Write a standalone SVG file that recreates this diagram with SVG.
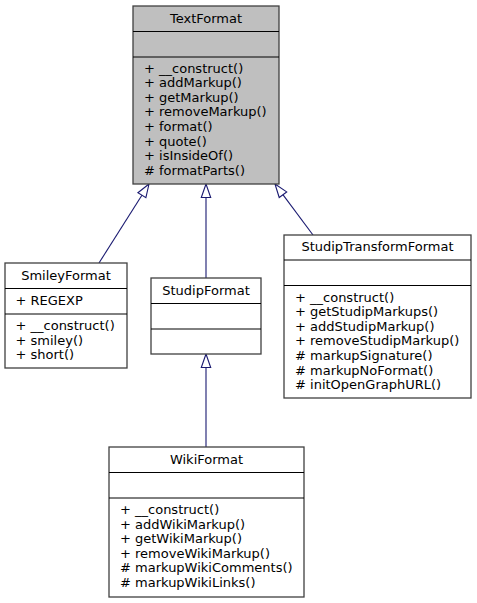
<svg xmlns="http://www.w3.org/2000/svg" width="477" height="603" viewBox="0 0 477 603">
<style>
text{font-family:"DejaVu Sans",sans-serif;font-size:13px;fill:#000}
.t{text-anchor:middle}
.box{fill:#fff;stroke:#404040;stroke-width:1.3}
.cur{fill:#bfbfbf}
.div{stroke:#000;stroke-width:1;fill:none}
.edge{stroke:#191970;stroke-width:1.1;fill:none}
.head{fill:#fff;stroke:#191970;stroke-width:1.1}
</style>
<rect width="477" height="603" fill="#fff"/>
<g id="edges">
<line class="edge" x1="99" y1="263" x2="141.9" y2="195.2"/>
<polygon class="head" points="149,184 145.9,197.7 137.9,192.7"/>
<line class="edge" x1="206" y1="278" x2="206" y2="197.5"/>
<polygon class="head" points="206,184 210.7,197.5 201.3,197.5"/>
<line class="edge" x1="313" y1="235" x2="282.9" y2="194.7"/>
<polygon class="head" points="275,184 286.7,191.9 279.2,197.5"/>
<line class="edge" x1="206" y1="447" x2="206" y2="367.5"/>
<polygon class="head" points="206,354 210.7,367.5 201.3,367.5"/>
</g>
<g id="TextFormat">
<rect class="box cur" x="133" y="6" width="146" height="178"/>
<line class="div" x1="133" y1="31.5" x2="279" y2="31.5"/>
<line class="div" x1="133" y1="57" x2="279" y2="57"/>
<text class="t" x="206" y="22.5">TextFormat</text>
<text x="144" y="72.5">+ __construct()</text>
<text x="144" y="87.1">+ addMarkup()</text>
<text x="144" y="101.7">+ getMarkup()</text>
<text x="144" y="116.3">+ removeMarkup()</text>
<text x="144" y="130.9">+ format()</text>
<text x="144" y="145.5">+ quote()</text>
<text x="144" y="160.1">+ isInsideOf()</text>
<text x="144" y="174.7"># formatParts()</text>
</g>
<g id="SmileyFormat">
<rect class="box" x="5" y="263" width="122" height="105"/>
<line class="div" x1="5" y1="288.5" x2="127" y2="288.5"/>
<line class="div" x1="5" y1="314" x2="127" y2="314"/>
<text class="t" x="66" y="279.5">SmileyFormat</text>
<text x="15.5" y="305">+ REGEXP</text>
<text x="15.5" y="330">+ __construct()</text>
<text x="15.5" y="344.6">+ smiley()</text>
<text x="15.5" y="359.2">+ short()</text>
</g>
<g id="StudipFormat">
<rect class="box" x="151" y="278" width="110" height="76"/>
<line class="div" x1="151" y1="303.5" x2="261" y2="303.5"/>
<line class="div" x1="151" y1="329" x2="261" y2="329"/>
<text class="t" x="206" y="294.5">StudipFormat</text>
</g>
<g id="StudipTransformFormat">
<rect class="box" x="284" y="235" width="187" height="163"/>
<line class="div" x1="284" y1="260" x2="471" y2="260"/>
<line class="div" x1="284" y1="285.5" x2="471" y2="285.5"/>
<text class="t" x="377.5" y="251">StudipTransformFormat</text>
<text x="295" y="301.5">+ __construct()</text>
<text x="295" y="316.1">+ getStudipMarkups()</text>
<text x="295" y="330.7">+ addStudipMarkup()</text>
<text x="295" y="345.3">+ removeStudipMarkup()</text>
<text x="295" y="359.9"># markupSignature()</text>
<text x="295" y="374.5"># markupNoFormat()</text>
<text x="295" y="389.1"># initOpenGraphURL()</text>
</g>
<g id="WikiFormat">
<rect class="box" x="109" y="447" width="195" height="150"/>
<line class="div" x1="109" y1="472.5" x2="304" y2="472.5"/>
<line class="div" x1="109" y1="498" x2="304" y2="498"/>
<text class="t" x="206.5" y="463.5">WikiFormat</text>
<text x="120" y="514">+ __construct()</text>
<text x="120" y="528.6">+ addWikiMarkup()</text>
<text x="120" y="543.2">+ getWikiMarkup()</text>
<text x="120" y="557.8">+ removeWikiMarkup()</text>
<text x="120" y="572.4"># markupWikiComments()</text>
<text x="120" y="587"># markupWikiLinks()</text>
</g>
</svg>
